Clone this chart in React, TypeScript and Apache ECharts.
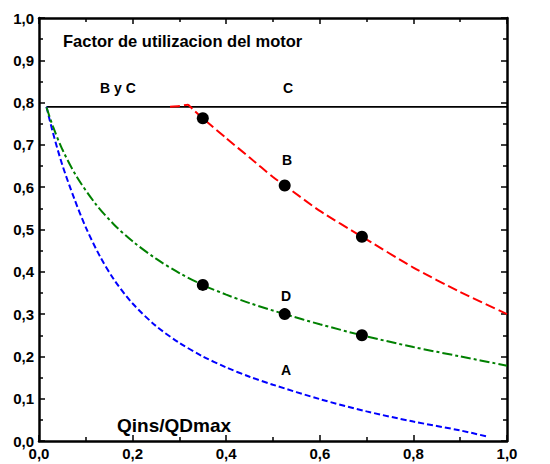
import React, { useEffect, useRef } from "react";
import * as echarts from "echarts";

// Curve A (blue)
const aX = [0.016, 0.03, 0.05, 0.075, 0.1, 0.13, 0.16, 0.2, 0.25, 0.3, 0.35, 0.4, 0.45, 0.5, 0.6, 0.7, 0.8, 0.9, 0.96];
const aY = [0.79, 0.728, 0.652, 0.574, 0.505, 0.437, 0.382, 0.325, 0.272, 0.232, 0.2, 0.174, 0.152, 0.133, 0.099, 0.07, 0.046, 0.025, 0.01];
// Curve D (green)
const dX = [0.016, 0.03, 0.05, 0.08, 0.12, 0.16, 0.2, 0.25, 0.3, 0.35, 0.4, 0.45, 0.525, 0.6, 0.69, 0.8, 0.9, 1.0];
const dY = [0.789, 0.743, 0.689, 0.626, 0.562, 0.512, 0.472, 0.431, 0.397, 0.369, 0.346, 0.326, 0.3, 0.276, 0.25, 0.222, 0.2, 0.178];
// Curve B (red)
const bX = [0.28, 0.3, 0.318, 0.328, 0.35, 0.4, 0.45, 0.5, 0.525, 0.6, 0.69, 0.8, 0.9, 1.0];
const bY = [0.79, 0.792, 0.795, 0.785, 0.763, 0.716, 0.67, 0.624, 0.604, 0.544, 0.483, 0.41, 0.352, 0.3];
// Curve C (black)
const cX = [0.016, 1.0];
const cY = [0.79, 0.79];
// Marked points
const dotX = [0.35, 0.525, 0.69, 0.35, 0.525, 0.69];
const dotY = [0.763, 0.604, 0.483, 0.369, 0.3, 0.25];

const pairs = (xs: number[], ys: number[]) => xs.map((x, i) => [x, ys[i]]);
const fmt = (v: number) => v.toFixed(1).replace(".", ",");

const FONT = "Liberation Sans, Arial, sans-serif";

const mkAxis = (position: string, interval: number, showLabel: boolean) => ({
  type: "value",
  min: 0,
  max: 1,
  interval,
  position,
  axisLine: { show: true, onZero: false, lineStyle: { color: "#000", width: 2.5 } },
  axisTick: { show: true, inside: true, length: 6, lineStyle: { color: "#000", width: 1.5, opacity: 1 } },
  minorTick: { show: true, splitNumber: 2, length: 4, lineStyle: { color: "#000", width: 1.5, opacity: 1 } },
  splitLine: { show: false },
  minorSplitLine: { show: false },
  axisLabel: showLabel
    ? { show: true, fontFamily: FONT, fontWeight: "bold", fontSize: 15, color: "#000", margin: 5, formatter: fmt }
    : { show: false },
});

export default function App() {
  const ref = useRef<HTMLDivElement>(null);
  useEffect(() => {
    document.body.style.margin = "0";
    const chart = echarts.init(ref.current!, undefined, { renderer: "svg" });
    chart.setOption({
      animation: false,
      backgroundColor: "#fff",
      grid: { left: 39, right: 43, top: 18, bottom: 23 },
      xAxis: [mkAxis("bottom", 0.2, true), mkAxis("top", 0.2, false)],
      yAxis: [mkAxis("left", 0.1, true), mkAxis("right", 0.1, false)],
      series: [
        {
          type: "line", name: "C", data: pairs(cX, cY), showSymbol: false,
          lineStyle: { color: "#000", width: 1.6 },
        },
        {
          type: "line", name: "A", data: pairs(aX, aY), showSymbol: false, smooth: 0.3,
          lineStyle: { color: "#0000ff", width: 2, type: [6, 3] },
        },
        {
          type: "line", name: "D", data: pairs(dX, dY), showSymbol: false, smooth: 0.3,
          lineStyle: { color: "#008000", width: 2, type: [10, 3, 3, 3] },
        },
        {
          type: "line", name: "B", data: pairs(bX, bY), showSymbol: false, smooth: 0.2,
          lineStyle: { color: "#ff0000", width: 2, type: [10, 4] },
        },
        {
          type: "scatter", name: "pts", data: pairs(dotX, dotY), symbol: "circle", symbolSize: 12,
          itemStyle: { color: "#000", opacity: 1 }, z: 5,
        },
      ],
      graphic: [
        { type: "text", left: 63, top: 32, style: { text: "Factor de utilizacion del motor", font: `bold 16.5px ${FONT}`, fill: "#000" } },
        { type: "text", x: 118, y: 88, style: { text: "B y C", font: `bold 14px ${FONT}`, fill: "#000", align: "center", verticalAlign: "middle" } },
        { type: "text", x: 288, y: 88, style: { text: "C", font: `bold 14px ${FONT}`, fill: "#000", align: "center", verticalAlign: "middle" } },
        { type: "text", x: 287, y: 160, style: { text: "B", font: `bold 14px ${FONT}`, fill: "#000", align: "center", verticalAlign: "middle" } },
        { type: "text", x: 286, y: 296, style: { text: "D", font: `bold 14px ${FONT}`, fill: "#000", align: "center", verticalAlign: "middle" } },
        { type: "text", x: 286, y: 370, style: { text: "A", font: `bold 14px ${FONT}`, fill: "#000", align: "center", verticalAlign: "middle" } },
        { type: "text", x: 117, y: 425, style: { text: "Qins/QDmax", font: `bold 19px ${FONT}`, fill: "#000", verticalAlign: "middle" } },
      ],
    });
    return () => chart.dispose();
  }, []);
  return <div ref={ref} style={{ width: 550, height: 464 }} />;
}
